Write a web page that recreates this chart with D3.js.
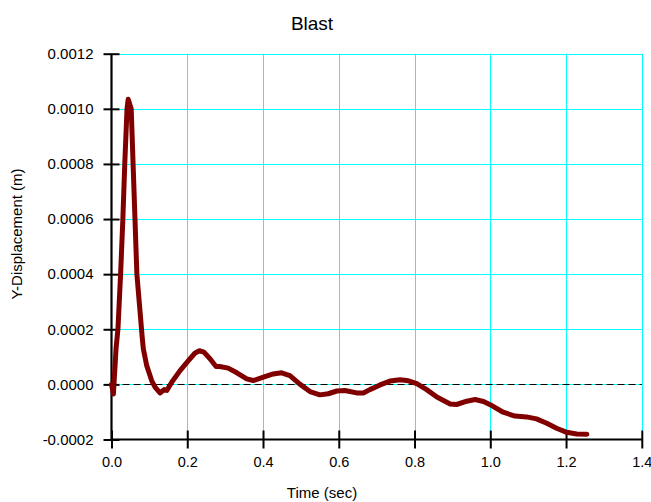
<!DOCTYPE html>
<html>
<head>
<meta charset="utf-8">
<script src="https://cdn.jsdelivr.net/npm/d3@7"></script>
<style>
  html, body { margin: 0; padding: 0; background: #fff; }
  svg { display: block; font-family: "Liberation Sans", Arial, sans-serif; }
</style>
</head>
<body>
<svg id="chart" width="651" height="502"></svg>
<script>
// ---- data ----
const chartTitle = "Blast";
const xLabel = "Time (sec)";
const yLabel = "Y-Displacement (m)";
const xTicks = [0.0, 0.2, 0.4, 0.6, 0.8, 1.0, 1.2, 1.4];
const yTicks = [-0.0002, 0.0, 0.0002, 0.0004, 0.0006, 0.0008, 0.0010, 0.0012];
const time = [0, 0.005, 0.012, 0.017, 0.024, 0.030, 0.035, 0.041, 0.044, 0.052, 0.057, 0.062, 0.067, 0.074, 0.081, 0.084,
  0.093, 0.106, 0.115, 0.128, 0.139, 0.146, 0.159, 0.181, 0.203, 0.220, 0.232, 0.244, 0.260, 0.276, 0.286, 0.308,
  0.331, 0.357, 0.374, 0.401, 0.427, 0.449, 0.471, 0.498, 0.524, 0.550, 0.572, 0.595, 0.616, 0.647, 0.665, 0.682,
  0.709, 0.735, 0.762, 0.784, 0.806, 0.832, 0.859, 0.894, 0.911, 0.938, 0.960, 0.982, 1.004, 1.034, 1.065, 1.096,
  1.122, 1.149, 1.175, 1.202, 1.228, 1.255];
const displacement = [0.000000, -0.000035, 0.000130, 0.000200, 0.000400, 0.000600, 0.000800, 0.001000, 0.001035, 0.001000,
  0.000800, 0.000600, 0.000400, 0.000286, 0.000172, 0.000129,
  0.000068, 0.000014, -0.000010, -0.000031, -0.000019, -0.000022, 0.000008, 0.000050, 0.000086, 0.000113, 0.000122,
  0.000117, 0.000093, 0.000065, 0.000065, 0.000059,
  0.000042, 0.000020, 0.000014, 0.000026, 0.000038, 0.000042, 0.000032, 0.000000, -0.000026, -0.000038, -0.000034,
  -0.000024, -0.000022, -0.000031, -0.000031, -0.000019,
  -0.000002, 0.000012, 0.000017, 0.000013, 0.000003, -0.000019, -0.000046, -0.000071, -0.000073, -0.000061, -0.000055,
  -0.000062, -0.000077, -0.000101, -0.000115, -0.000118,
  -0.000125, -0.000141, -0.000159, -0.000174, -0.000180, -0.000181];

// ---- layout ----
const svg = d3.select("#chart");
const pL = 111.5, pR = 641.8, pT = 53.7, pB = 439.5;
const x = d3.scaleLinear().domain([0, 1.4]).range([pL, pR]);
const y = d3.scaleLinear().domain([-0.0002, 0.0012]).range([pB, pT]);

// grid
const grid = svg.append("g");
grid.selectAll("line.h").data(yTicks.filter(d => d > -0.0002)).enter().append("line")
  .attr("x1", pL).attr("x2", pR)
  .attr("y1", d => Math.round(y(d)) + 0.5).attr("y2", d => Math.round(y(d)) + 0.5)
  .attr("stroke", "#00ffff").attr("stroke-width", 1);
grid.selectAll("line.v").data(xTicks.filter(d => d > 0)).enter().append("line")
  .attr("x1", d => Math.round(x(d)) + 0.5).attr("x2", d => Math.round(x(d)) + 0.5)
  .attr("y1", pT).attr("y2", pB)
  .attr("stroke", "#00ffff").attr("stroke-width", 1);

// zero dashed line
svg.append("line")
  .attr("x1", pL).attr("x2", pR)
  .attr("y1", Math.round(y(0)) + 0.5).attr("y2", Math.round(y(0)) + 0.5)
  .attr("stroke", "#000").attr("stroke-width", 1).attr("stroke-dasharray", "7,4");

// axes
const fmtY = v => d3.format(".4f")(v).replace("\u2212", "-");
const fmtX = d3.format(".1f");
const yAxis = svg.append("g").attr("transform", `translate(${pL},0)`)
  .call(d3.axisLeft(y).tickValues(yTicks).tickFormat(fmtY).tickSize(8).tickPadding(10));
yAxis.select(".domain").attr("d", `M0,${pT}V${pB}`).attr("stroke-width", 2.2);
yAxis.selectAll(".tick line").attr("x1", -8).attr("x2", 8).attr("stroke-width", 2);
yAxis.selectAll(".tick text").attr("font-size", 15).attr("font-family", "Liberation Sans, Arial, sans-serif")
  .attr("fill", "#000");

const xAxis = svg.append("g").attr("transform", `translate(0,${pB})`)
  .call(d3.axisBottom(x).tickValues(xTicks).tickFormat(fmtX).tickSize(9).tickPadding(10));
xAxis.select(".domain").attr("d", `M${pL},0H${pR}`).attr("stroke-width", 2.2);
xAxis.selectAll(".tick line").attr("y1", -9).attr("y2", 9).attr("stroke-width", 2);
xAxis.selectAll(".tick text").attr("font-size", 14.5).attr("font-family", "Liberation Sans, Arial, sans-serif")
  .attr("fill", "#000").attr("y", 17).attr("dy", "0.71em");

// data line
const line = d3.line().x((d, i) => x(time[i])).y(d => y(d));
svg.append("path").datum(displacement)
  .attr("d", line)
  .attr("fill", "none").attr("stroke", "#800000").attr("stroke-width", 5)
  .attr("stroke-linejoin", "round").attr("stroke-linecap", "round");

// titles
svg.append("text").attr("x", 312).attr("y", 30).attr("text-anchor", "middle")
  .attr("font-size", 19).text(chartTitle);
svg.append("text").attr("x", 322).attr("y", 498).attr("text-anchor", "middle")
  .attr("font-size", 15).text(xLabel);
svg.append("text").attr("transform", "translate(22,234) rotate(-90)").attr("text-anchor", "middle")
  .attr("font-size", 15).text(yLabel);
</script>
</body>
</html>
